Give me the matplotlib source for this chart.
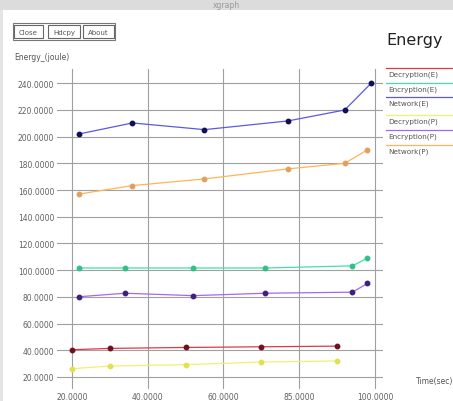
import matplotlib
matplotlib.use("Agg")
import matplotlib.pyplot as plt
from matplotlib.patches import Rectangle
from matplotlib.ticker import FixedLocator, FormatStrFormatter

# Energy consumption per run (joule) against time (sec)
dec_e_x = [20, 30, 50, 70, 90]
dec_e_y = [40.4, 41.4, 42.1, 42.6, 43.1]
dec_p_x = [20, 30, 50, 70, 90]
dec_p_y = [26.2, 28.2, 29.2, 31.2, 32.0]
enc_e_x = [22, 34, 52, 71, 94, 98]
enc_e_y = [101.6, 101.6, 101.6, 101.6, 103.2, 109.0]
enc_p_x = [22, 34, 52, 71, 94, 98]
enc_p_y = [80.1, 82.7, 80.9, 82.7, 83.5, 90.0]
net_e_x = [22, 36, 55, 77, 92, 99]
net_e_y = [202.0, 210.2, 205.2, 211.7, 219.9, 240.0]
net_p_x = [22, 36, 55, 77, 92, 98]
net_p_y = [157.0, 163.3, 168.3, 175.8, 180.0, 190.0]

series_names = ["Decryption(E)", "Encryption(E)", "Network(E)",
                "Decryption(P)", "Encryption(P)", "Network(P)"]
x_ticks = [20, 40, 60, 80, 100]
x_tick_labels = ["20.0000", "40.0000", "60.0000", "85.0000", "100.0000"]
y_ticks = [20, 40, 60, 80, 100, 120, 140, 160, 180, 200, 220, 240]

series = [
    (dec_e_x, dec_e_y, "#e03848", "#701020"),
    (enc_e_x, enc_e_y, "#40e0a8", "#30c088"),
    (net_e_x, net_e_y, "#5a5ae0", "#101058"),
    (dec_p_x, dec_p_y, "#f2f070", "#e0e050"),
    (enc_p_x, enc_p_y, "#a468f0", "#40207a"),
    (net_p_x, net_p_y, "#ffb458", "#e0a060"),
]

W, H = 453, 402
fig = plt.figure(figsize=(W / 100, H / 100), dpi=100)
fig.patch.set_facecolor("white")

def px(x, y):
    return x / W, 1 - y / H

# window chrome
fig.patches.append(Rectangle(px(0, 11), 1, 11 / H, transform=fig.transFigure,
                             facecolor="#dcdcdc", edgecolor="none"))
fig.text(*px(226, 6), "xgraph", fontsize=5.5, color="#9a9a9a", ha="center", va="center")
fig.patches.append(Rectangle(px(0, H), 3 / W, 1 - 11 / H, transform=fig.transFigure,
                             facecolor="#e4e4e4", edgecolor="none"))

# buttons
fig.patches.append(Rectangle(px(13, 41), 102 / W, 17 / H, transform=fig.transFigure,
                             facecolor="none", edgecolor="#777777", lw=0.8))
for x0, x1, label in [(14, 43, "Close"), (48, 80, "Hdcpy"), (83, 114, "About")]:
    fig.patches.append(Rectangle(px(x0, 39), (x1 - x0) / W, 13 / H,
                                 transform=fig.transFigure, facecolor="white",
                                 edgecolor="#666666", lw=0.8))
    fig.text(*px((x0 + x1) / 2, 32.5), label, fontsize=5, color="#555555",
             ha="center", va="center_baseline")

fig.text(*px(14, 57), "Energy_(joule)", fontsize=5.5, color="#555555", ha="left", va="center")
fig.text(*px(443, 40), "Energy", fontsize=11.5, color="#222222", ha="right", va="center")
fig.text(*px(416, 382), "Time(sec)", fontsize=5.5, color="#555555", ha="left", va="center")

# plotting area
ax = fig.add_axes([57 / W, 1 - 390 / H, 326 / W, 320 / H])
ax.set_xlim(16.1, 102.1)
ax.set_ylim(11.0, 250.6)
for s in ax.spines.values():
    s.set_visible(False)
ax.set_facecolor("none")
ax.xaxis.set_major_locator(FixedLocator(x_ticks))
ax.set_xticks(x_ticks)
ax.set_xticklabels(x_tick_labels)
ax.yaxis.set_major_locator(FixedLocator(y_ticks))
ax.yaxis.set_major_formatter(FormatStrFormatter("%.4f"))
ax.tick_params(length=0, labelsize=5.5, labelcolor="#606060", pad=2)
ax.grid(True, color="#a0a0a0", lw=0.8)
ax.set_axisbelow(True)

for (xs, ys, lc, mc), name in zip(series, series_names):
    ax.plot(xs, ys, color=lc, lw=0.9, marker="o", markersize=3.2,
            markerfacecolor=mc, markeredgecolor=mc, label=name)

# legend entries: a coloured line above each name
label_y = [75, 90, 104, 122, 137, 152]
for (xs, ys, lc, mc), name, ly in zip(series, series_names, label_y):
    fig.add_artist(plt.Line2D([386 / W, 452 / W], [1 - (ly - 6) / H] * 2,
                              transform=fig.transFigure, color=lc, lw=0.9))
    fig.text(*px(388, ly), name, fontsize=5.2, color="#555555", ha="left", va="center")

fig.savefig("out.png", dpi=100)
